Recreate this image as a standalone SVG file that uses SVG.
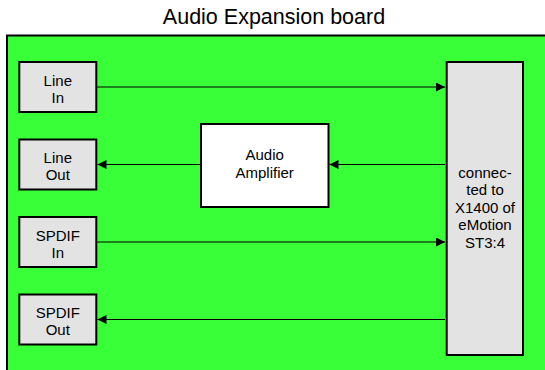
<svg xmlns="http://www.w3.org/2000/svg" width="545" height="370" viewBox="0 0 545 370">
<defs>
<style>
text{font-family:"Liberation Sans",Arial,sans-serif;fill:#000;}
.t{font-size:15px;text-anchor:middle;}
.box{fill:#e3e3e3;stroke:#000;stroke-width:2;}
.amp{fill:#fff;stroke:#000;stroke-width:2;}
.c{stroke:#000;stroke-width:1;fill:none;marker-end:url(#ah);}
</style>
<marker id="ah" viewBox="0 0 10 10" refX="10" refY="5" markerWidth="10" markerHeight="9" markerUnits="userSpaceOnUse" orient="auto">
<path d="M0,0 L10,5 L0,10 z" fill="#000"/>
</marker>
</defs>
<rect width="545" height="370" fill="#fff"/>
<text x="274" y="24" style="font-size:21.5px;text-anchor:middle">Audio Expansion board</text>
<rect id="board" x="7" y="35.5" width="545" height="345" fill="#38ff38" stroke="#000" stroke-width="2"/>
<g id="connectors">
<line class="c" x1="97" y1="87" x2="445" y2="87"/>
<line class="c" x1="445" y1="164.5" x2="329.5" y2="164.5"/>
<line class="c" x1="200" y1="164.5" x2="97.5" y2="164.5"/>
<line class="c" x1="97" y1="242" x2="445" y2="242"/>
<line class="c" x1="445" y1="319.5" x2="97.5" y2="319.5"/>
</g>
<g id="line-in">
<rect class="box" x="19.3" y="62" width="77" height="50"/>
<text class="t" x="57.8" y="85.5">Line</text>
<text class="t" x="57.8" y="102.5">In</text>
</g>
<g id="line-out">
<rect class="box" x="19.3" y="139.5" width="77" height="50"/>
<text class="t" x="57.8" y="163">Line</text>
<text class="t" x="57.8" y="180">Out</text>
</g>
<g id="spdif-in">
<rect class="box" x="19.3" y="217" width="77" height="50"/>
<text class="t" x="57.8" y="240.5">SPDIF</text>
<text class="t" x="57.8" y="257.5">In</text>
</g>
<g id="spdif-out">
<rect class="box" x="19.3" y="294.5" width="77" height="50"/>
<text class="t" x="57.8" y="318">SPDIF</text>
<text class="t" x="57.8" y="335">Out</text>
</g>
<g id="amplifier">
<rect class="amp" x="201" y="124" width="127.5" height="83"/>
<text class="t" x="264.7" y="160">Audio</text>
<text class="t" x="264.7" y="177.5">Amplifier</text>
</g>
<g id="emotion">
<rect class="box" x="446.7" y="62" width="76.3" height="293"/>
<text class="t" x="485" y="177.5">connec-</text>
<text class="t" x="485" y="195">ted to</text>
<text class="t" x="485" y="212.5">X1400 of</text>
<text class="t" x="485" y="230">eMotion</text>
<text class="t" x="485" y="247.5">ST3:4</text>
</g>
</svg>
